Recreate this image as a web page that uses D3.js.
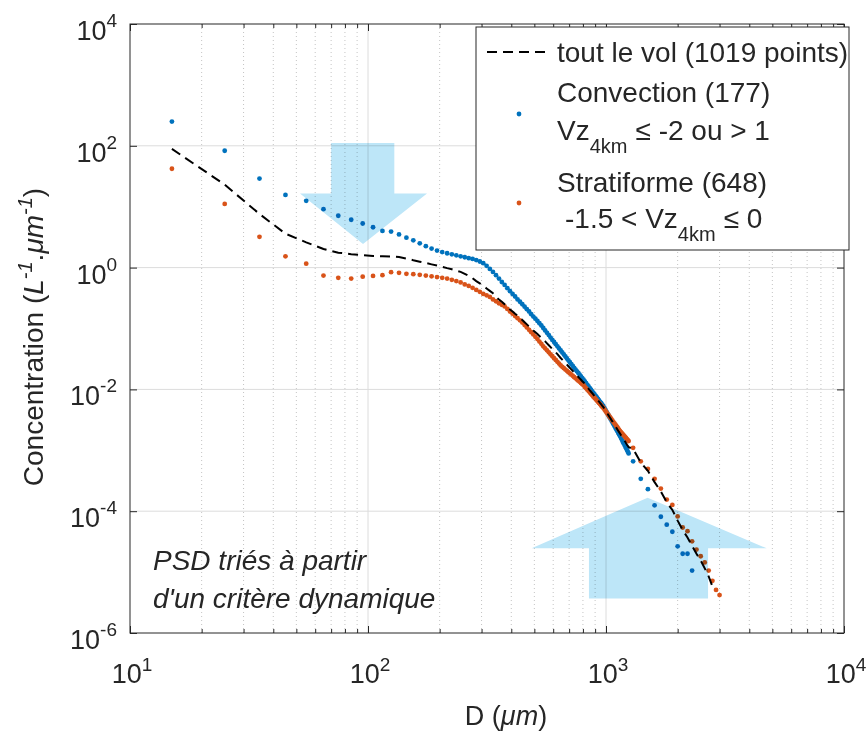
<!DOCTYPE html>
<html><head><meta charset="utf-8">
<script src="https://cdn.jsdelivr.net/npm/d3@7"></script>
<style>
body{margin:0;background:#fff}
svg{display:block}
text{font-family:"Liberation Sans",Arial,Helvetica,sans-serif;fill:#262626}
</style>
</head><body>
<svg id="c" width="868" height="731"></svg>
<script>
// ---------- data ----------
const diameters = [15,25,35,45,55,65,75,85,95,105,115,125,135,145,155,165,175,185,195,205,
215,225,235,245,255,265,275,285,295,305,315,325,335,345,355,365,375,385,395,405,
415,425,435,445,455,465,475,485,495,505,515,525,535,545,555,565,575,585,595,605,
615,625,635,645,655,665,675,685,695,705,715,725,735,745,755,765,775,785,795,805,
815,825,835,845,855,865,875,885,895,905,915,925,935,945,955,965,975,985,995,1005,
1015,1025,1035,1045,1055,1065,1075,1085,1095,1105,1115,1125,1135,1145,1155,1165,1175,1185,1195,1205,
1215,1225,1235,1245,
1300,1400,1500,1600,1700,1800,1900,2000,2100,2200,2300,2400,2500,2600,2700,2800,2900,3000];

const convection = [250,83,29,15.6,12.5,9.1,7.1,6.1,5.3,4.6,4.0,3.9,3.5,3.1,2.8,2.5,2.25,2.05,1.9,1.8,
1.72,1.65,1.59,1.53,1.48,1.43,1.39,1.33,1.26,1.18,1.07,0.95,0.85,0.75,0.66,0.58,0.52,0.46,0.41,0.37,
0.335,0.30,0.275,0.25,0.228,0.208,0.19,0.172,0.157,0.145,0.133,0.122,0.112,0.102,0.093,0.085,0.078,0.071,0.065,0.060,
0.0552,0.0509,0.0471,0.0435,0.0404,0.0374,0.0347,0.0322,0.030,0.0279,0.026,0.0243,0.0226,0.0212,0.0198,0.0186,0.0174,0.0163,0.0153,0.0144,
0.0135,0.01265,0.0119,0.0112,0.0105,0.0099,0.0093,0.0088,0.0083,0.00783,0.0074,0.00698,0.0066,0.00625,0.00592,0.0056,0.00531,0.00494,0.0046,0.00429,
0.004,0.00374,0.00349,0.00327,0.00305,0.00286,0.00267,0.0025,0.00235,0.0022,0.00207,0.00194,0.00182,0.00172,0.0016,0.0015,0.0014,0.00131,0.00123,0.00115,
0.00108,0.00101,0.00095,0.00089,
6.6e-4,3.4e-4,2.3e-4,1.25e-4,8.1e-5,6.0e-5,4.6e-5,2.65e-5,2.0e-5,2.0e-5,1.06e-5,null,null,null,null,null,null,null];

const stratiforme = [42,11.1,3.2,1.53,1.16,0.74,0.68,0.66,0.71,0.73,0.75,0.84,0.82,0.79,0.78,0.76,0.74,0.72,0.70,0.68,
0.66,0.63,0.60,0.57,0.53,0.50,0.465,0.43,0.40,0.37,0.35,0.33,0.30,0.28,0.26,0.245,0.23,0.21,0.19,0.175,
0.16,0.148,0.136,0.125,0.114,0.104,0.095,0.087,0.080,0.073,0.067,0.061,0.056,0.051,0.0472,0.0438,0.0406,0.0377,0.0351,0.0326,
0.0304,0.0284,0.0265,0.0248,0.0235,0.0223,0.0212,0.0202,0.0192,0.0183,0.0175,0.0167,0.0159,0.0152,0.0145,0.0139,0.0133,0.0127,0.0122,0.0117,
0.0110,0.0104,0.0099,0.0094,0.0089,0.00845,0.0080,0.0076,0.00724,0.00689,0.00656,0.00625,0.00596,0.00568,0.00541,0.00516,0.00493,0.00467,0.00442,0.00419,
0.00397,0.00377,0.00357,0.0034,0.00322,0.00306,0.00291,0.00277,0.00264,0.00251,0.00239,0.00228,0.00217,0.00207,0.00199,0.00191,0.00185,0.00177,0.00171,0.00165,
0.00158,0.00153,0.00147,0.00142,
1.1e-3,6.6e-4,4.95e-4,3.4e-4,2.35e-4,1.55e-4,1.27e-4,8.2e-5,5.4e-5,4.7e-5,3.2e-5,2.34e-5,1.82e-5,1.44e-5,1.06e-5,7.2e-6,5.1e-6,4.2e-6];

const toutLeVol = [89,23,7.6,3.6,2.6,2.02,1.76,1.66,1.60,1.55,1.53,1.52,1.49,1.41,1.32,1.25,1.19,1.13,1.08,1.03,
0.98,0.94,0.89,0.85,0.79,0.73,0.67,0.60,0.55,0.50,0.455,0.415,0.38,0.33,0.30,0.275,0.25,0.225,0.205,0.19,
0.175,0.163,0.150,0.138,0.127,0.117,0.108,0.100,0.093,0.087,0.081,0.0755,0.0705,0.066,0.0615,0.057,0.053,0.0494,0.0461,0.0432,
0.0405,0.0380,0.0353,0.0328,0.0308,0.0289,0.0271,0.0255,0.0240,0.0226,0.0213,0.0201,0.0190,0.0179,0.0170,0.0160,0.0152,0.0144,0.0136,0.0130,
0.0122,0.0115,0.0108,0.0102,0.00967,0.00915,0.00865,0.00818,0.00775,0.00735,0.00697,0.00661,0.00627,0.00596,0.00566,0.00538,0.00512,0.0048,0.00451,0.00424,
0.00398,0.00375,0.00353,0.00333,0.00313,0.00296,0.00279,0.00264,0.00249,0.00235,0.00222,0.0021,0.00199,0.00189,0.00179,0.00169,0.00161,0.00153,0.00145,0.00138,
0.00131,0.00124,0.00118,0.00113,
1.05e-3,6.3e-4,4.6e-4,3.0e-4,2.1e-4,1.4e-4,1.05e-4,7.0e-5,4.9e-5,3.7e-5,2.7e-5,2.0e-5,1.55e-5,1.15e-5,8.5e-6,5.8e-6,null,null];

const xMajorTicks = [10,100,1000,10000];
const xMajorExps  = ["1","2","3","4"];
const xMinorTicks = [20,30,40,50,60,70,80,90,200,300,400,500,600,700,800,900,2000,3000,4000,5000,6000,7000,8000,9000];
const yMajorTicks = [1e-6,1e-4,1e-2,1,1e2,1e4];
const yMajorExps  = ["-6","-4","-2","0","2","4"];

// arrows (annotation shapes, in data coordinates [D, concentration])
const downArrow = [[70,111],[129,111],[129,16.5],[177,16.5],[95.3,2.44],[51.8,16.5],[70,16.5]];
const upArrow   = [[848,3.69e-6],[2684,3.69e-6],[2684,2.46e-5],[4732,2.46e-5],[1496,1.67e-4],[487,2.46e-5],[848,2.46e-5]];

// ---------- setup ----------
const svg = d3.select("#c");
svg.append("rect").attr("width",868).attr("height",731).attr("fill","#fff");
const x = d3.scaleLog().domain([10,1e4]).range([130,844]);
const y = d3.scaleLog().domain([1e-6,1e4]).range([633,24]);
const L = 130, R = 844, T = 24, B = 633;
const blue = "#0072BD", orange = "#D95319";

// grid
const grid = svg.append("g");
grid.selectAll(".vminor").data(xMinorTicks).join("line")
  .attr("x1",d=>x(d)).attr("x2",d=>x(d)).attr("y1",T).attr("y2",B)
  .attr("stroke","#c4c4c4").attr("stroke-width",1).attr("stroke-dasharray","1,3");
grid.selectAll(".vmajor").data(xMajorTicks.slice(1,3)).join("line")
  .attr("x1",d=>x(d)).attr("x2",d=>x(d)).attr("y1",T).attr("y2",B)
  .attr("stroke","#dcdcdc").attr("stroke-width",1);
grid.selectAll(".hmajor").data(yMajorTicks.slice(1,5)).join("line")
  .attr("x1",L).attr("x2",R).attr("y1",d=>y(d)).attr("y2",d=>y(d))
  .attr("stroke","#dcdcdc").attr("stroke-width",1);

// data
const pts = (arr)=>diameters.map((d,i)=>({d, v:arr[i]})).filter(p=>p.v!=null);

svg.append("g").selectAll("circle").data(pts(convection)).join("circle")
  .attr("cx",p=>x(p.d)).attr("cy",p=>y(p.v)).attr("r",2.4).attr("fill",blue);
svg.append("g").selectAll("circle").data(pts(stratiforme)).join("circle")
  .attr("cx",p=>x(p.d)).attr("cy",p=>y(p.v)).attr("r",2.4).attr("fill",orange);

const line = d3.line().x(p=>x(p.d)).y(p=>y(p.v));
svg.append("path").datum(pts(toutLeVol)).attr("d",line)
  .attr("fill","none").attr("stroke","#000").attr("stroke-width",2).attr("stroke-dasharray","10,6");

// arrows (multiply blend)
const arrowPath = d3.line().x(p=>x(p[0])).y(p=>y(p[1])).curve(d3.curveLinearClosed);
[downArrow, upArrow].forEach(a=>{
  svg.append("path").attr("d",arrowPath(a)).attr("fill","#bde6f8")
    .style("mix-blend-mode","multiply");
});

// axes frame
const axC = "#262626";
function styleAxis(g){ g.select(".domain").remove(); g.selectAll("line").attr("stroke",axC); }
svg.append("g").attr("transform",`translate(0,${B})`).call(d3.axisBottom(x).tickValues(xMajorTicks).tickSize(-7).tickFormat("")).call(styleAxis);
svg.append("g").attr("transform",`translate(0,${B})`).call(d3.axisBottom(x).tickValues(xMinorTicks).tickSize(-4).tickFormat("")).call(styleAxis);
svg.append("g").attr("transform",`translate(0,${T})`).call(d3.axisTop(x).tickValues(xMajorTicks).tickSize(-7).tickFormat("")).call(styleAxis);
svg.append("g").attr("transform",`translate(0,${T})`).call(d3.axisTop(x).tickValues(xMinorTicks).tickSize(-4).tickFormat("")).call(styleAxis);
svg.append("g").attr("transform",`translate(${L},0)`).call(d3.axisLeft(y).tickValues(yMajorTicks).tickSize(-7).tickFormat("")).call(styleAxis);
svg.append("g").attr("transform",`translate(${R},0)`).call(d3.axisRight(y).tickValues(yMajorTicks).tickSize(-7).tickFormat("")).call(styleAxis);
svg.append("rect").attr("x",L).attr("y",T).attr("width",R-L).attr("height",B-T)
  .attr("fill","none").attr("stroke",axC).attr("stroke-width",1);

// tick labels
const xl = svg.append("g").selectAll("text").data(xMajorTicks).join("text")
  .attr("x",d=>x(d)+2).attr("y",683).attr("text-anchor","middle").attr("font-size",27);
xl.append("tspan").text("10");
xl.append("tspan").attr("font-size",19).attr("dy",-12).text((d,i)=>xMajorExps[i]);

const yl = svg.append("g").selectAll("text").data(yMajorTicks).join("text")
  .attr("x",117).attr("y",d=>y(d)+16).attr("text-anchor","end").attr("font-size",27);
yl.append("tspan").text("10");
yl.append("tspan").attr("font-size",19).attr("dy",-13).text((d,i)=>yMajorExps[i]);

// axis titles
const xt = svg.append("text").attr("x",506).attr("y",725).attr("text-anchor","middle").attr("font-size",27);
xt.append("tspan").text("D (");
xt.append("tspan").attr("font-style","italic").text("μm");
xt.append("tspan").text(")");

const yt = svg.append("text").attr("transform","translate(43,337) rotate(-90)").attr("text-anchor","middle").attr("font-size",28);
yt.append("tspan").text("Concentration (");
yt.append("tspan").attr("font-style","italic").text("L");
yt.append("tspan").attr("font-style","italic").attr("font-size",20).attr("dy",-11).text("-1");
yt.append("tspan").attr("dy",11).text(".");
yt.append("tspan").attr("font-style","italic").text("μm");
yt.append("tspan").attr("font-style","italic").attr("font-size",20).attr("dy",-11).text("-1");
yt.append("tspan").attr("dy",11).text(")");

// annotation text
svg.append("text").attr("x",153).attr("y",570).attr("font-size",28).attr("font-style","italic").text("PSD triés à partir");
svg.append("text").attr("x",153).attr("y",608).attr("font-size",28).attr("font-style","italic").text("d'un critère dynamique");

// legend
const lg = svg.append("g");
lg.append("rect").attr("x",476).attr("y",27).attr("width",373).attr("height",223)
  .attr("fill","#fff").attr("stroke",axC).attr("stroke-width",1);
lg.append("line").attr("x1",487).attr("x2",551).attr("y1",52).attr("y2",52)
  .attr("stroke","#000").attr("stroke-width",2).attr("stroke-dasharray","10,6");
lg.append("circle").attr("cx",519).attr("cy",114).attr("r",2.4).attr("fill",blue);
lg.append("circle").attr("cx",519).attr("cy",203).attr("r",2.4).attr("fill",orange);
const lt = (yy)=>lg.append("text").attr("x",557).attr("y",yy).attr("font-size",28);
lt(62).text("tout le vol (1019 points)");
lt(102).text("Convection (177)");
const l3 = lt(140);
l3.append("tspan").text("Vz");
l3.append("tspan").attr("font-size",20).attr("dy",13).text("4km");
l3.append("tspan").attr("dy",-13).attr("dx",8).text("≤ -2 ou > 1");
lt(192).text("Stratiforme (648)");
const l5 = lg.append("text").attr("x",565).attr("y",228).attr("font-size",28);
l5.append("tspan").text("-1.5 < Vz");
l5.append("tspan").attr("font-size",20).attr("dy",13).text("4km");
l5.append("tspan").attr("dy",-13).attr("dx",8).text("≤ 0");
</script>
</body></html>
